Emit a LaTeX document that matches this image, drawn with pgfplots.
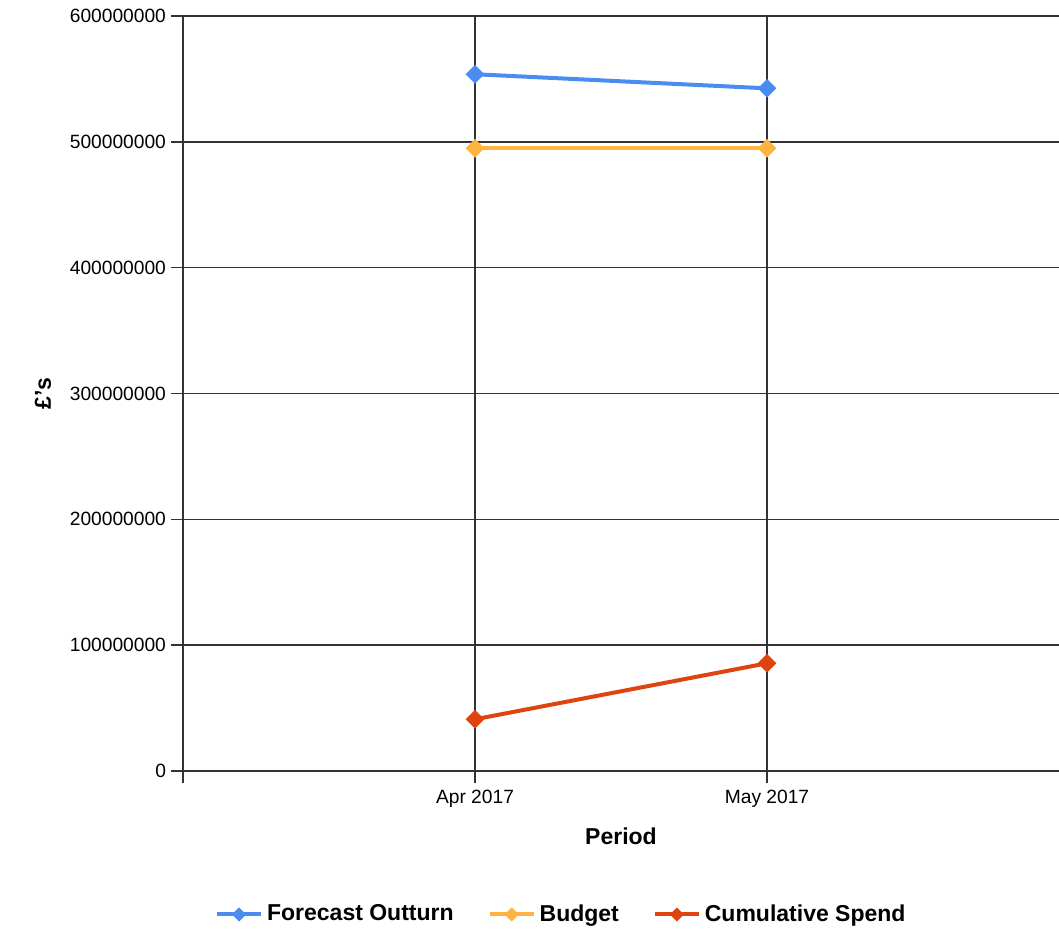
\documentclass[border=0pt]{standalone}
\usepackage{pgfplots}
\pgfplotsset{compat=1.18}
\usepackage{fontspec}
\setmainfont{Liberation Sans}

\definecolor{fcblue}{HTML}{4A8CF0}
\definecolor{budorange}{HTML}{FFB340}
\definecolor{cumred}{HTML}{E0440E}

\begin{document}
\begin{tikzpicture}
    \useasboundingbox (0,0) rectangle (529.5pt,465pt);
    \begin{axis}[
        at={(91.5pt,79.5pt)}, anchor=south west,
        scale only axis,
        width=438pt, height=377.5pt,
        xmin=0, xmax=3,
        ymin=0, ymax=600000000,
        axis x line*=bottom, axis y line*=left,
        axis line style={-, black!80, line width=0.75pt},
        xtick={0,1,2}, xticklabels={,Apr 2017,May 2017},
        ytick={0,100000000,...,600000000},
        scaled y ticks=false,
        yticklabel style={/pgf/number format/fixed, /pgf/number format/1000 sep={}, xshift=1pt},
        /pgf/number format/assume math mode=true,
        tick align=outside, major tick length=6pt,
        tick style={black!80, line width=0.75pt},
        ticklabel style={font=\fontsize{9.6}{11}\selectfont},
        grid=major,
        major grid style={black!80, line width=0.75pt},
        xlabel={Period}, ylabel={£'s},
        label style={font=\fontsize{11.5}{13}\selectfont\bfseries},
        xlabel style={at={(axis description cs:0.5,-0.086)}, anchor=center},
        ylabel style={at={(axis description cs:-0.160,0.5)}, anchor=center},
        legend columns=3,
        legend style={draw=none, at={(axis description cs:0.433,-0.190)}, anchor=center,
            font=\fontsize{11.5}{13}\selectfont\bfseries,
            /tikz/every even column/.append style={column sep=15pt}},
        legend image code/.code={\draw[#1, mark size=1.5pt, mark repeat=2, mark phase=2]
            plot coordinates {(0pt,0pt) (11pt,0pt) (22pt,0pt)};},
        every axis plot/.append style={line width=2pt, mark=square*,
            mark options={rotate=45}, mark size=2.3pt},
        clip=false,
    ]
        \addplot[color=fcblue] coordinates {(1,553700000) (2,542500000)};
        \addlegendentry{Forecast Outturn}
        \addplot[color=budorange] coordinates {(1,494900000) (2,494900000)};
        \addlegendentry{Budget}
        \addplot[color=cumred] coordinates {(1,41100000) (2,85600000)};
        \addlegendentry{Cumulative Spend}
    \end{axis}
\end{tikzpicture}
\end{document}
